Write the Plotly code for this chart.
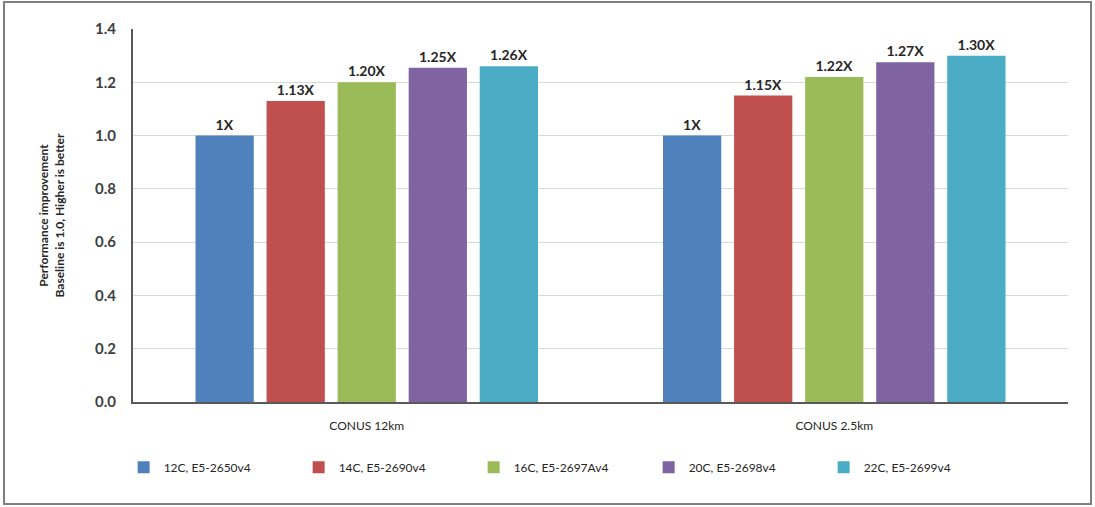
import plotly.graph_objects as go

categories = ["CONUS 12km", "CONUS 2.5km"]
series_names = ["12C, E5-2650v4", "14C, E5-2690v4", "16C, E5-2697Av4", "20C, E5-2698v4", "22C, E5-2699v4"]
values_12C = [1.00, 1.00]
values_14C = [1.13, 1.15]
values_16C = [1.20, 1.22]
values_20C = [1.255, 1.275]
values_22C = [1.26, 1.30]
labels_12C = ["1X", "1X"]
labels_14C = ["1.13X", "1.15X"]
labels_16C = ["1.20X", "1.22X"]
labels_20C = ["1.25X", "1.27X"]
labels_22C = ["1.26X", "1.30X"]
colors = ["#4F81BD", "#C0504D", "#9BBB59", "#8064A2", "#4BACC6"]
y_ticks = [0.0, 0.2, 0.4, 0.6, 0.8, 1.0, 1.2, 1.4]

all_vals = [values_12C, values_14C, values_16C, values_20C, values_22C]
all_labels = [labels_12C, labels_14C, labels_16C, labels_20C, labels_22C]

fig = go.Figure()
for name, vals, labs, col in zip(series_names, all_vals, all_labels, colors):
    fig.add_trace(go.Bar(
        x=categories, y=vals, name=name, marker_color=col, marker_line_width=0,
        text=labs, textposition="outside", cliponaxis=False,
        textfont=dict(family="Lato", size=14, color="#262626", weight="bold"),
    ))

fig.update_layout(
    width=1095, height=507,
    margin=dict(l=133, r=27, t=29, b=105),
    paper_bgcolor="white", plot_bgcolor="white",
    barmode="group", bargap=0.24, bargroupgap=0.18,
    font=dict(family="Lato", color="#262626"),
    showlegend=True,
    legend=dict(orientation="h", x=-0.01, y=-0.175, xanchor="left", yanchor="middle",
                entrywidth=130, entrywidthmode="pixels", itemwidth=30,
                font=dict(family="Lato", size=12, color="#262626"), traceorder="normal"),
)
fig.update_yaxes(range=[0, 1.4], tickvals=y_ticks, tickformat=".1f",
                 showgrid=True, gridcolor="#D9D9D9", gridwidth=1,
                 showline=True, linecolor="#595959", linewidth=2,
                 ticks="", ticklabelstandoff=12,
                 tickfont=dict(family="Lato", size=15, color="#404040", weight="bold"),
                 zeroline=False,
                 title=dict(text="Performance improvement<br>Baseline is 1.0, Higher is better",
                            font=dict(family="Lato", size=12, color="#262626", weight="bold"),
                            standoff=28))
fig.update_xaxes(showline=True, linecolor="#595959", linewidth=2, ticks="",
                 ticklabelstandoff=12,
                 tickfont=dict(family="Lato", size=12, color="#262626"))

fig.add_shape(type="rect", xref="paper", yref="paper",
              x0=(4 - 133) / 935, x1=(1091 - 133) / 935,
              y0=(402 - 504) / 373, y1=(402 - 2) / 373,
              line=dict(color="#7F7F7F", width=2), fillcolor="rgba(0,0,0,0)", layer="below")

fig.write_html("out.html", config={"displayModeBar": False},
               post_script="document.body.style.margin='0';")
